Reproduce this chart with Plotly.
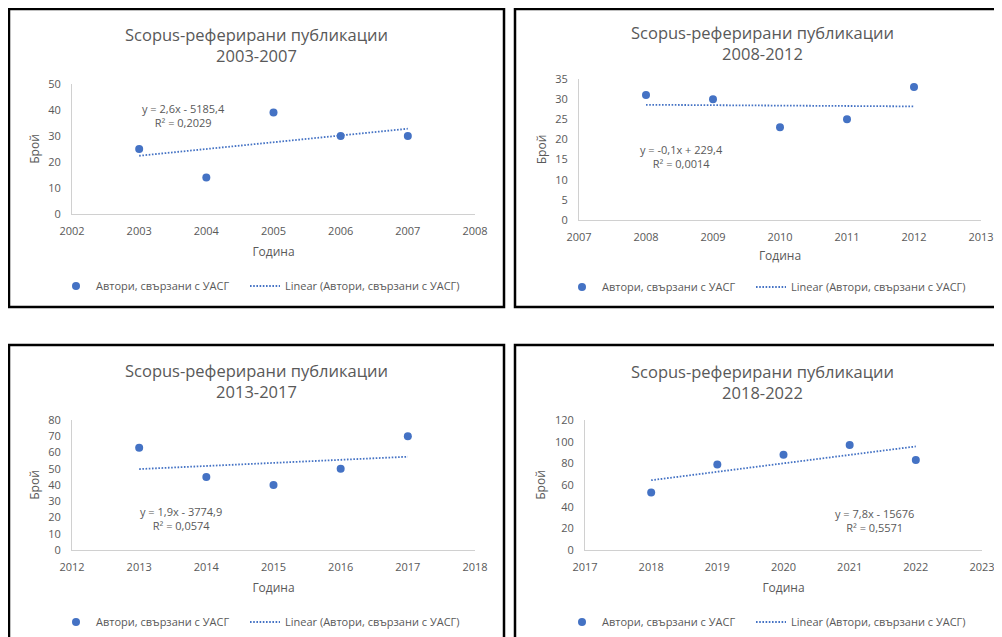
import numpy as np
import plotly.graph_objects as go

# page body has an 8px default margin; the figure fills the rest of the window
OFF = 8
W, H = 1002 - OFF, 637 - OFF

# ---------------- data ----------------
title_text = "Scopus-реферирани публикации"
periods = ["2003-2007", "2008-2012", "2013-2017", "2018-2022"]

years_1 = [2003, 2004, 2005, 2006, 2007]
counts_1 = [25, 14, 39, 30, 30]
years_2 = [2008, 2009, 2010, 2011, 2012]
counts_2 = [31, 30, 23, 25, 33]
years_3 = [2013, 2014, 2015, 2016, 2017]
counts_3 = [63, 45, 40, 50, 70]
years_4 = [2018, 2019, 2020, 2021, 2022]
counts_4 = [53, 79, 88, 97, 83]

equations = [
    "y = 2,6x - 5185,4<br>R² = 0,2029",
    "y = -0,1x + 229,4<br>R² = 0,0014",
    "y = 1,9x - 3774,9<br>R² = 0,0574",
    "y = 7,8x - 15676<br>R² = 0,5571",
]
y_max = [50, 35, 80, 120]
y_step = [10, 5, 10, 20]
series_name = "Автори, свързани с УАСГ"
trend_name = "Linear (Автори, свързани с УАСГ)"
x_title = "Година"
y_title = "Брой"

all_years = [years_1, years_2, years_3, years_4]
all_counts = [counts_1, counts_2, counts_3, counts_4]

# ---------------- layout geometry (window pixels) ----------------
panels = [
    dict(box=(9, 9, 504, 307), plot=(72, 84, 475, 214), title=(257, 45), eq=(183, 115),
         legend=(56, 286), xstand=10, ystand=6),
    dict(box=(515, 9, 1012, 307), plot=(579, 79, 981, 220), title=(762, 43), eq=(681, 157),
         legend=(562, 287), xstand=8, ystand=6),
    dict(box=(9, 345, 504, 647), plot=(72, 420, 475, 550), title=(256, 381), eq=(181, 518),
         legend=(56, 622), xstand=10, ystand=6),
    dict(box=(515, 345, 1012, 647), plot=(585, 420, 982, 550), title=(762, 382), eq=(874, 520),
         legend=(562, 622), xstand=10, ystand=6),
]

FONT = "Open Sans"
GRAY = "#595959"
BLUE = "#4472C4"
AXIS = "#D0D0D0"


def px(x):
    return (x - OFF) / W


def py(y):
    return 1 - (y - OFF) / H


fig = go.Figure()
layout = dict(
    template="none",
    width=W, height=H, autosize=False,
    margin=dict(l=0, r=0, t=0, b=0, autoexpand=False),
    paper_bgcolor="white", plot_bgcolor="white",
    font=dict(family=FONT, color=GRAY),
    annotations=[], shapes=[],
)

for i in range(4):
    p = panels[i]
    sfx = "" if i == 0 else str(i + 1)
    xa, ya = "x" + sfx, "y" + sfx
    leg = "legend" + sfx
    yrs, cnt = all_years[i], all_counts[i]

    fig.add_trace(go.Scatter(
        x=yrs, y=cnt, mode="markers", name=series_name,
        marker=dict(color=BLUE, size=8), xaxis=xa, yaxis=ya, legend=leg,
        legendwidth=144, cliponaxis=False,
    ))
    coef = np.polyfit(yrs, cnt, 1)
    tx = [yrs[0], yrs[-1]]
    ty = list(np.polyval(coef, tx))
    fig.add_trace(go.Scatter(
        x=tx, y=ty, mode="lines", name=trend_name,
        line=dict(color=BLUE, width=1.8, dash="1.6px,1.6px"),
        xaxis=xa, yaxis=ya, legend=leg,
    ))

    x0, y0, x1, y1 = p["plot"]
    layout["xaxis" + sfx] = dict(
        domain=[px(x0), px(x1)], anchor=ya, automargin=False,
        range=[yrs[0] - 1, yrs[-1] + 1], dtick=1, tick0=yrs[0],
        showline=True, linecolor=AXIS, linewidth=1,
        showgrid=False, zeroline=False, ticks="",
        tickfont=dict(size=11, color=GRAY, family=FONT),
        ticklabelstandoff=7,
        title=dict(text=x_title, font=dict(size=12, color=GRAY, family=FONT),
                   standoff=p["xstand"]),
        fixedrange=True,
    )
    layout["yaxis" + sfx] = dict(
        domain=[py(y1), py(y0)], anchor=xa, automargin=False,
        range=[0, y_max[i]], dtick=y_step[i],
        showline=True, linecolor=AXIS, linewidth=1,
        showgrid=False, zeroline=False, ticks="",
        tickfont=dict(size=11, color=GRAY, family=FONT),
        ticklabelstandoff=8,
        title=dict(text=y_title, font=dict(size=12, color=GRAY, family=FONT),
                   standoff=p["ystand"]),
        fixedrange=True,
    )
    lx, ly = p["legend"]
    layout[leg] = dict(
        orientation="h", x=px(lx), xanchor="left", y=py(ly), yanchor="middle",
        bgcolor="rgba(0,0,0,0)", font=dict(size=11, color=GRAY, family=FONT),
    )

    tx_, ty_ = p["title"]
    layout["annotations"].append(dict(
        text=title_text + "<br>" + periods[i], x=px(tx_), y=py(ty_),
        xref="paper", yref="paper", xanchor="center", yanchor="middle",
        showarrow=False, font=dict(size=16.5, color=GRAY, family=FONT),
    ))
    ex, ey = p["eq"]
    layout["annotations"].append(dict(
        text=equations[i], x=px(ex), y=py(ey),
        xref="paper", yref="paper", xanchor="center", yanchor="middle",
        showarrow=False, font=dict(size=11, color=GRAY, family=FONT),
    ))
    bx0, by0, bx1, by1 = p["box"]
    layout["shapes"].append(dict(
        type="rect", xref="paper", yref="paper",
        x0=px(bx0), x1=px(bx1), y0=py(by1), y1=py(by0),
        line=dict(color="black", width=2.5), fillcolor="rgba(0,0,0,0)",
    ))

fig.update_layout(**layout)
fig.write_html("out.html")
